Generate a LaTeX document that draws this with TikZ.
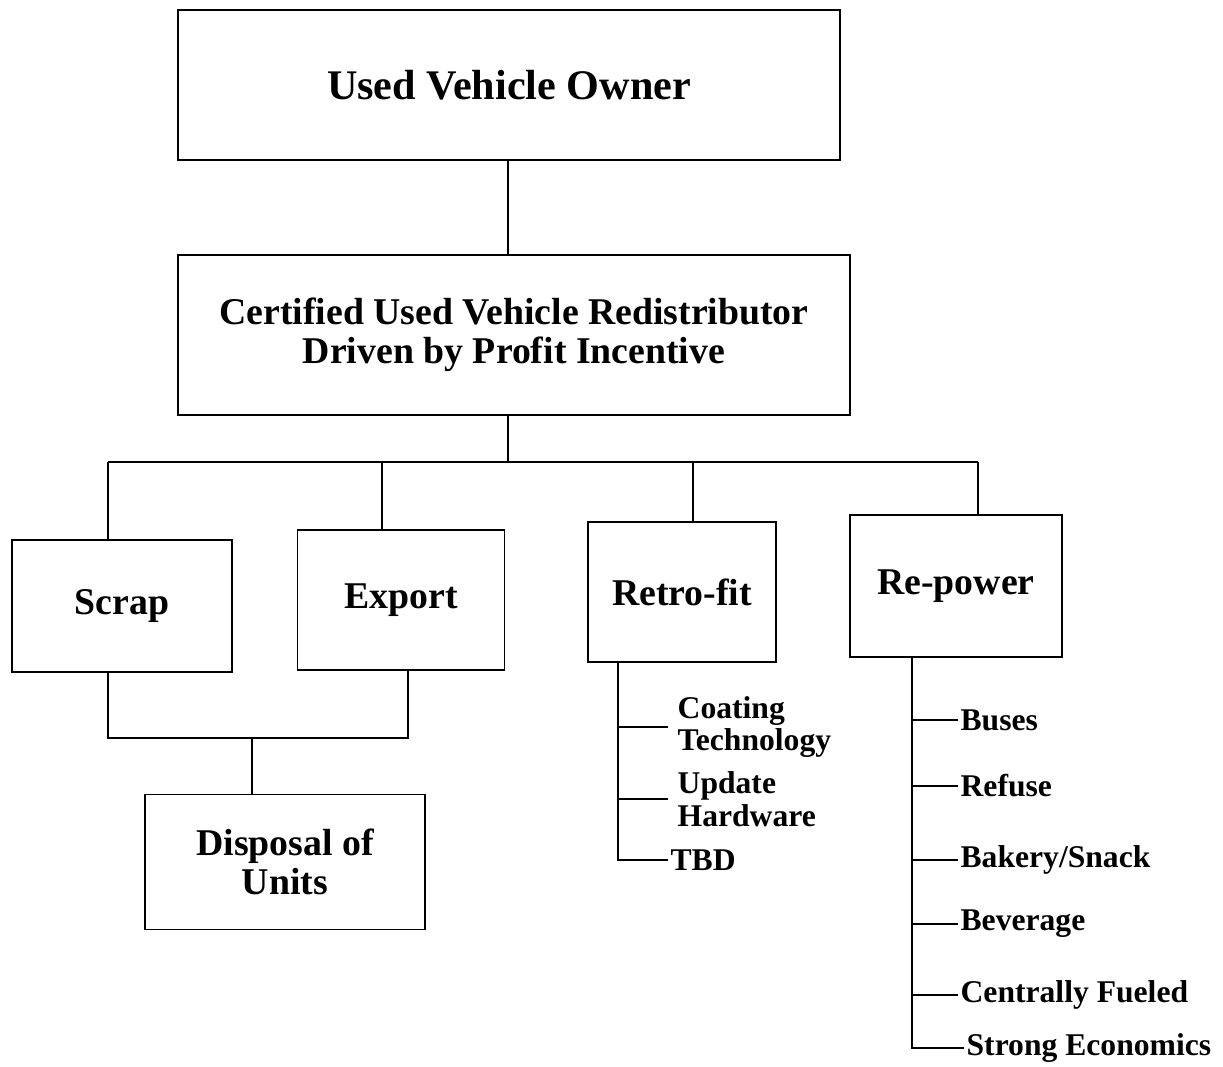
\documentclass[tikz,border=0pt]{standalone}
\usepackage{fontspec}
\setmainfont{Liberation Serif}
\usepackage{tikz}

\begin{document}
\begin{tikzpicture}
[x=0.02cm,y=-0.02cm,line width=1pt]
\tikzstyle{box}=[draw,inner sep=0,align=center,font=\bfseries\fontsize{21.5}{22}\selectfont]
\tikzstyle{leaf}=[anchor=west,inner sep=1pt,align=left,font=\bfseries\fontsize{18}{18.5}\selectfont]
\useasboundingbox (0,0) rectangle (1223,1067);

\node(owner)[box,minimum width=13.24cm,minimum height=3cm,font=\bfseries\fontsize{24}{25}\selectfont]at(509,85){Used Vehicle Owner};
\node(redist)[box,minimum width=13.44cm,minimum height=3.2cm]at(514,335){Certified Used Vehicle Redistributor\\Driven by Profit Incentive};
\node(scrap)[box,minimum width=4.4cm,minimum height=2.64cm]at(122,606){Scrap};
\node(export)[box,minimum width=4.14cm,minimum height=2.8cm]at(401,600){Export};
\node(retrofit)[box,minimum width=3.76cm,minimum height=2.8cm]at(682,592){Retro-fit};
\node(repower)[box,minimum width=4.24cm,minimum height=2.84cm]at(956,586){Re-power};
\node(disposal)[box,minimum width=5.6cm,minimum height=2.7cm]at(285,862){Disposal of\\Units};

\coordinate(bus)at(508,462);
\coordinate(d1)at(108,462);
\coordinate(d2)at(382,462);
\coordinate(d3)at(693,462);
\coordinate(d4)at(978,462);
\draw(owner.south -| bus)--(bus |- redist.north);
\draw(bus |- redist.south)--(bus);
\draw(d1)--(d4);
\foreach \d/\n in {d1/scrap,d2/export,d3/retrofit,d4/repower}
  \draw(\d)--(\d |- \n.north);

\coordinate(j)at(252,738);
\coordinate(j1)at(108,738);
\coordinate(j2)at(408,738);
\draw(scrap.south -| j1)--(j1)--(j2)--(export.south -| j2);
\draw(j)--(j |- disposal.north);

\coordinate(rtrunk)at(618,662);
\node(coat)[leaf,inner xsep=5pt]at(668,727){Coating\\Technology};
\node(update)[leaf,inner xsep=5pt]at(668,799){Update\\Hardware};
\node(tbd)[leaf]at(668,860){TBD};
\draw(tbd.west)-|(rtrunk |- retrofit.south);
\foreach \n in {coat,update}
  \draw(\n.west)--(\n.west -| rtrunk);

\coordinate(ptrunk)at(912,657);
\node(buses)[leaf]at(958,720){Buses};
\node(refuse)[leaf]at(958,786){Refuse};
\node(bakery)[leaf]at(958,860){Bakery/Snack};
\node(beverage)[leaf]at(958,924){Beverage};
\node(central)[leaf]at(958,995){Centrally Fueled};
\node(strong)[leaf]at(964,1048){Strong Economics};
\draw(strong.west)-|(ptrunk |- repower.south);
\foreach \n in {buses,refuse,bakery,beverage,central}
  \draw(\n.west)--(\n.west -| ptrunk);
\end{tikzpicture}
\end{document}
